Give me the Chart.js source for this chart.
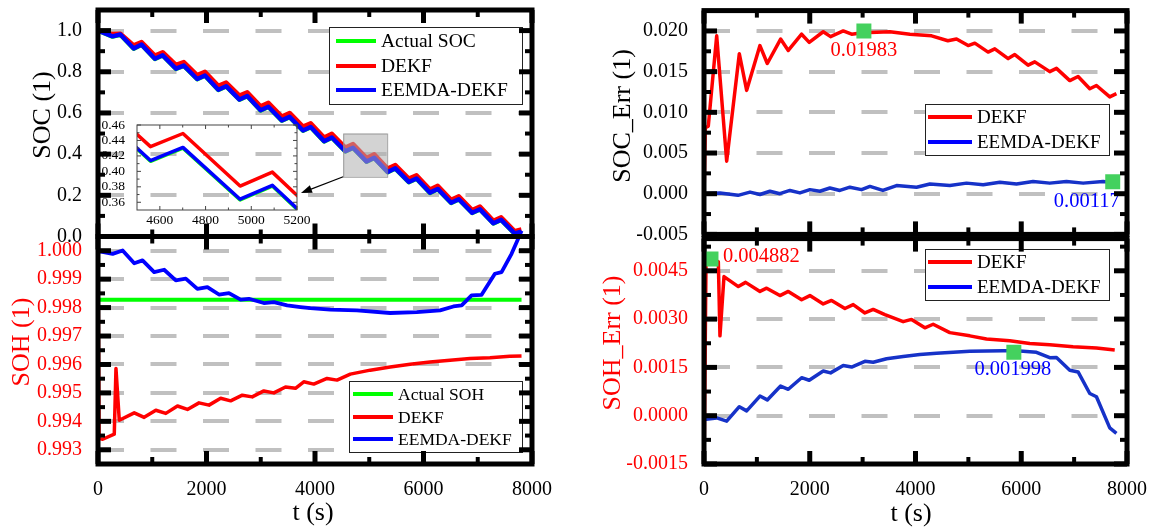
<!DOCTYPE html>
<html>
<head>
<meta charset="utf-8">
<script src="https://cdn.jsdelivr.net/npm/chart.js@4.4.1/dist/chart.umd.min.js"></script>
<style>
html,body{margin:0;padding:0;background:#fff;}
#wrap{position:relative;width:1151px;height:532px;overflow:hidden;background:#fff;}
#wrap canvas{position:absolute;}
</style>
</head>
<body>
<div id="wrap">
  <canvas id="c_soc" width="560" height="245" style="left:0;top:0;width:560px;height:245px"></canvas>
  <canvas id="c_soh" width="560" height="304" style="left:0;top:228px;width:560px;height:304px"></canvas>
  <canvas id="c_inset" width="225" height="115" style="left:95px;top:115px;width:225px;height:115px"></canvas>
  <canvas id="c_se" width="571" height="245" style="left:580px;top:0;width:571px;height:245px"></canvas>
  <canvas id="c_he" width="571" height="304" style="left:580px;top:228px;width:571px;height:304px"></canvas>
</div>
<script>
const FONT = '"Liberation Serif","Times New Roman",serif';
Chart.defaults.font.family = FONT;

/* ---------- data ---------- */
const xTicks = [0,2000,4000,6000,8000];

// SOC (top left) : peaks / troughs of the drive cycle
const socNames = ['Actual SOC','DEKF','EEMDA-DEKF'];
const tSoc = [0,268,412,658,803,1049,1192,1437,1582,1828,1971,2218,2362,2608,2751,2997,3141,3388,3532,3779,3921,4168,4311,4559,4701,4951,5092,5340,5481,5729,5871,6119,6262,6509,6651,6898,7041,7289,7431,7679,7805];
const socActual = [1.000,0.971,0.980,0.912,0.931,0.862,0.879,0.814,0.829,0.764,0.781,0.712,0.729,0.664,0.681,0.612,0.629,0.563,0.580,0.514,0.531,0.462,0.480,0.413,0.430,0.363,0.381,0.312,0.330,0.264,0.281,0.212,0.230,0.163,0.180,0.114,0.131,0.063,0.080,0.014,0.022];
const socDekf   = [1.000,0.983,0.985,0.928,0.944,0.879,0.895,0.833,0.847,0.784,0.800,0.732,0.748,0.684,0.700,0.632,0.649,0.583,0.600,0.534,0.550,0.481,0.499,0.432,0.449,0.381,0.399,0.330,0.347,0.281,0.297,0.228,0.246,0.178,0.195,0.128,0.145,0.076,0.093,0.026,0.034];
const socEemda  = [1.000,0.972,0.981,0.913,0.932,0.863,0.880,0.815,0.830,0.765,0.782,0.713,0.730,0.665,0.682,0.613,0.630,0.564,0.581,0.515,0.532,0.463,0.481,0.414,0.431,0.364,0.382,0.313,0.331,0.265,0.282,0.213,0.231,0.164,0.181,0.115,0.132,0.064,0.081,0.015,0.023];
const socTicks = [0,0.2,0.4,0.6,0.8,1.0];

// inset
const insetXTicks = [4600,4800,5000,5200];
const insetYTicks = [0.36,0.38,0.40,0.42,0.44,0.46];

// SOH (bottom left)
const sohNames = ['Actual SOH','DEKF','EEMDA-DEKF'];
const tSohAct = [0,7807];
const sohAct  = [0.99828,0.99828];
const tSohDekf = [0,20,86,300,331,392,668,851,1066,1250,1465,1649,1862,2046,2261,2445,2660,2843,3057,3241,3456,3640,3793,3977,4222,4406,4651,5018,5386,5754,6121,6489,6857,7224,7592,7807];
const sohDekf  = [1.0000,0.99340,0.99337,0.99355,0.99586,0.99404,0.99430,0.99414,0.99439,0.99428,0.99454,0.99442,0.99465,0.99457,0.99481,0.99472,0.99492,0.99486,0.99507,0.99500,0.99521,0.99516,0.99539,0.99531,0.99551,0.99545,0.99566,0.99580,0.99591,0.99601,0.99609,0.99615,0.99621,0.99624,0.99629,0.99630];
const tSohEemda = [0,55,270,454,668,821,1035,1219,1434,1618,1832,2016,2230,2414,2629,2782,3057,3241,3487,3732,3915,4283,4773,5386,5876,6305,6550,6703,6887,7071,7316,7439,7623,7745,7807];
const sohEemda  = [1.0000,0.99997,0.99989,1.00001,0.99956,0.99966,0.99925,0.99933,0.99896,0.99902,0.99866,0.99872,0.99846,0.99851,0.99828,0.99831,0.99816,0.99819,0.99808,0.99802,0.99798,0.99793,0.99790,0.99781,0.99784,0.99790,0.99804,0.99808,0.99843,0.99845,0.99919,0.99925,0.99989,1.00042,1.00070];
const sohTicks = [0.993,0.994,0.995,0.996,0.997,0.998,0.999,1.000];

// SOC_Err (top right)
const errNames = ['DEKF','EEMDA-DEKF'];
const tSeDekf = [0,25,81,240,429,668,807,1058,1197,1449,1594,1846,1990,2255,2394,2633,2792,3030,3138,3516,3894,4304,4612,4776,4996,5122,5373,5500,5752,5878,6129,6256,6539,6666,6918,7075,7296,7422,7674,7800];
const seDekf  = [-0.0006,0.0081,0.0083,0.0194,0.0040,0.0172,0.0127,0.0182,0.0160,0.0190,0.0176,0.0196,0.0186,0.0199,0.0193,0.0200,0.0196,0.0198,0.0198,0.0199,0.0196,0.0194,0.0188,0.0190,0.0182,0.0185,0.0174,0.0178,0.0166,0.0171,0.0158,0.0162,0.0150,0.0154,0.0139,0.0144,0.0129,0.0133,0.0119,0.0123];
const tSeEemda = [0,302,643,870,1058,1247,1436,1625,1814,2003,2192,2381,2570,2759,2980,3138,3383,3642,4020,4272,4650,4965,5280,5595,5910,6224,6539,6855,7170,7548,7800];
const seEemda  = [0.0000,0.0001,-0.0002,0.0002,-0.0001,0.0003,0.0000,0.0004,0.0001,0.0005,0.0003,0.0007,0.0004,0.0008,0.0005,0.0009,0.0004,0.0010,0.0008,0.0012,0.0010,0.0013,0.0011,0.0014,0.0012,0.0015,0.0013,0.0015,0.0013,0.0015,0.0013];
const seMarkT = [3024,7730];
const seMarkV = [0.0200,0.00146];
const seMarkText = ['0.01983','0.00117'];
const seTicks = [-0.005,0,0.005,0.010,0.015,0.020];

// SOH_Err (bottom right)
const tHeDekf = [0,38,150,271,302,378,649,787,1058,1185,1436,1594,1846,2003,2255,2413,2665,2822,3043,3200,3421,3767,3925,4177,4334,4649,5027,5343,5783,6161,6539,6980,7422,7768];
const heDekf  = [-0.0017,0.00468,0.00488,0.00478,0.00248,0.00432,0.00401,0.00414,0.00386,0.00396,0.00373,0.00386,0.00360,0.00373,0.00347,0.00358,0.00333,0.00345,0.00319,0.00330,0.00314,0.00292,0.00299,0.00273,0.00284,0.00258,0.00248,0.00238,0.00233,0.00224,0.00220,0.00214,0.00210,0.00204];
const tHeEemda = [0,240,429,668,807,1058,1197,1449,1594,1846,1990,2255,2394,2633,2792,3043,3200,3453,3767,4082,4398,5027,5657,5910,6288,6539,6666,6918,7075,7296,7422,7674,7800];
const heEemda  = [-0.00012,-0.00007,-0.00017,0.00028,0.00015,0.00061,0.00049,0.00092,0.00082,0.00118,0.00110,0.00139,0.00133,0.00156,0.00151,0.00169,0.00166,0.00177,0.00184,0.00190,0.00194,0.00200,0.00202,0.00202,0.00197,0.00180,0.00181,0.00141,0.00136,0.00069,0.00059,-0.00038,-0.00055];
const heMarkT = [132,5860];
const heMarkV = [0.00487,0.00197];
const heMarkText = ['0.004882','0.001998'];
const heTicks = [-0.0015,0,0.0015,0.0030,0.0045];

/* ---------- helpers ---------- */
const RED = '#ff0000', BLUE = '#0000ff', GREEN = '#00ff00', BLUE2 = '#1632c8', MARK = '#44d15e';
const INSET = {left:137, top:125, right:297, bottom:210};

function pts(ts, vs){ return ts.map((t,i)=>({x:t, y:vs[i]})); }

function minors(majors, min, max){
  const st = majors[1]-majors[0], out = [];
  for(let v = majors[0]-st/2; v < max+st*1e-6; v += st){
    if(v > min+st*1e-6 && v < max-st*1e-6) out.push(v);
  }
  return out;
}

function lineDs(label, ts, vs, color, w, order, extra){
  return Object.assign({label, data:pts(ts,vs), borderColor:color, backgroundColor:color,
    borderWidth:w, pointRadius:0, tension:0, borderJoinStyle:'round', fill:false, order}, extra||{});
}
function markDs(ts, vs){
  return {type:'scatter', data:pts(ts,vs), pointStyle:'rect', pointRadius:10.6, pointHoverRadius:10.6,
    backgroundColor:MARK, borderWidth:0, showLine:false, order:0};
}

function xScale(show, h, min, max, ticks, opt){
  opt = opt || {};
  return {type:'linear', min, max,
    afterBuildTicks: s=>{ s.ticks = ticks.map(v=>({value:v})); },
    afterFit: s=>{ s.height = h; s.paddingLeft = 0; s.paddingRight = 0; },
    grid:{display:false}, border:{display:false},
    ticks:{display:show, color:'#000', padding:opt.pad ?? 6, autoSkip:false, maxRotation:0,
      font:{family:FONT, size:opt.size || 20}, callback: v=>String(v)}};
}
function yScale(min, max, ticks, digits, color, w, opt){
  opt = opt || {};
  return {type:'linear', min, max,
    afterBuildTicks: s=>{ s.ticks = ticks.map(v=>({value:v})); },
    afterFit: s=>{ s.width = w; s.paddingTop = 0; s.paddingBottom = 0; },
    grid: opt.noGrid ? {display:false} : {color:'#c0c0c0', lineWidth:4, drawTicks:false},
    border:{display:false, dash:[26,26.5]},
    ticks:{color, padding:opt.pad ?? 16, autoSkip:false, font:{family:FONT, size:opt.size || 20},
      callback: v=>Number(v).toFixed(digits)}};
}

/* frame, inward ticks, legend, notes, titles */
function makeFrame(cfg){
  return {
    id:'frame',
    afterDatasetsDraw(chart){
      if(!cfg.shade) return;
      const {ctx, scales:{x, y}} = chart, s = cfg.shade;
      const x0 = x.getPixelForValue(s.x0), x1 = x.getPixelForValue(s.x1);
      const y0 = y.getPixelForValue(s.y0), y1 = y.getPixelForValue(s.y1);
      ctx.save();
      ctx.fillStyle = 'rgba(175,175,175,0.55)';
      ctx.fillRect(x0, y1, x1-x0, y0-y1);
      ctx.strokeStyle = 'rgba(140,140,140,0.8)'; ctx.lineWidth = 1;
      ctx.strokeRect(x0+0.5, y1+0.5, x1-x0, y0-y1);
      // arrow to the inset
      const ex = INSET.right+4, ey = 193;
      const ang = Math.atan2(ey-y0, ex-x0);
      ctx.strokeStyle = '#000'; ctx.fillStyle = '#000'; ctx.lineWidth = 1.2;
      ctx.beginPath(); ctx.moveTo(x0, y0); ctx.lineTo(ex-8*Math.cos(ang), ey-8*Math.sin(ang)); ctx.stroke();
      ctx.beginPath();
      ctx.moveTo(ex, ey);
      ctx.lineTo(ex-11*Math.cos(ang)+4*Math.sin(ang), ey-11*Math.sin(ang)-4*Math.cos(ang));
      ctx.lineTo(ex-11*Math.cos(ang)-4*Math.sin(ang), ey-11*Math.sin(ang)+4*Math.cos(ang));
      ctx.closePath(); ctx.fill();
      ctx.restore();
    },
    afterDraw(chart){
      const {ctx, chartArea:a, scales:{x:sx, y:sy}} = chart;
      const ox = cfg.ox, oy = cfg.oy;
      ctx.save();
      // legend
      if(cfg.legend){
        const L = cfg.legend;
        ctx.fillStyle = '#fff';
        ctx.fillRect(L.box[0]-ox, L.box[1]-oy, L.box[2], L.box[3]);
        ctx.strokeStyle = '#222'; ctx.lineWidth = 1;
        ctx.strokeRect(L.box[0]-ox+0.5, L.box[1]-oy+0.5, L.box[2], L.box[3]);
        L.names.forEach((name, i)=>{
          const yy = L.rows[i]-oy;
          ctx.strokeStyle = L.colors[i]; ctx.lineWidth = 4; ctx.lineCap = 'butt';
          ctx.beginPath(); ctx.moveTo(L.s0-ox, yy); ctx.lineTo(L.s1-ox, yy); ctx.stroke();
          ctx.fillStyle = '#000'; ctx.font = L.size+'px '+FONT;
          ctx.textAlign = 'left'; ctx.textBaseline = 'middle';
          ctx.fillText(name, L.tx-ox, yy+1);
        });
      }
      // marker notes
      (cfg.notes||[]).forEach(n=>{
        const px = sx.getPixelForValue(n.t), py = sy.getPixelForValue(n.v);
        ctx.font = '20.5px '+FONT; ctx.fillStyle = n.color;
        ctx.textAlign = n.align; ctx.textBaseline = 'middle';
        ctx.fillText(n.text, px+n.dx, py+n.dy);
      });
      // axis titles
      (cfg.titles||[]).forEach(tt=>{
        ctx.save();
        ctx.translate(tt.x-ox, tt.y-oy);
        if(tt.rot) ctx.rotate(-Math.PI/2);
        ctx.font = '26px '+FONT; ctx.fillStyle = tt.color;
        ctx.textAlign = 'center'; ctx.textBaseline = 'middle';
        ctx.fillText(tt.text, 0, 0);
        ctx.restore();
      });
      // inward ticks on all four sides
      const T = cfg.tick;
      ctx.strokeStyle = T.color; ctx.lineCap = 'butt';
      const seg = (x1,y1,x2,y2,w)=>{ ctx.lineWidth = w; ctx.beginPath(); ctx.moveTo(x1,y1); ctx.lineTo(x2,y2); ctx.stroke(); };
      const xMaj = cfg.xMajor, yMaj = cfg.yMajor;
      const xMin = minors(xMaj, sx.min, sx.max), yMin = minors(yMaj, sy.min, sy.max);
      xMaj.forEach(v=>{ const p = sx.getPixelForValue(v); seg(p,a.bottom,p,a.bottom-T.major,T.majorW); seg(p,a.top,p,a.top+T.major,T.majorW); });
      xMin.forEach(v=>{ const p = sx.getPixelForValue(v); seg(p,a.bottom,p,a.bottom-T.minor,T.minorW); seg(p,a.top,p,a.top+T.minor,T.minorW); });
      yMaj.forEach(v=>{ const p = sy.getPixelForValue(v); seg(a.left,p,a.left+T.major,p,T.majorW); seg(a.right,p,a.right-T.major,p,T.majorW); });
      yMin.forEach(v=>{ const p = sy.getPixelForValue(v); seg(a.left,p,a.left+T.minor,p,T.minorW); seg(a.right,p,a.right-T.minor,p,T.minorW); });
      ctx.lineWidth = T.border; ctx.lineJoin = 'miter';
      ctx.strokeRect(a.left, a.top, a.right-a.left, a.bottom-a.top);
      ctx.restore();
    }
  };
}

const BIG = {major:13, minor:7, majorW:5, minorW:4, border:5, color:'#000'};

function makeChart(id, datasets, scales, pad, frameCfg){
  return new Chart(document.getElementById(id), {
    type:'line',
    data:{datasets},
    options:{
      responsive:false, animation:false, devicePixelRatio:1, events:[],
      layout:{padding:pad},
      plugins:{legend:{display:false}, tooltip:{enabled:false}},
      scales
    },
    plugins:[makeFrame(frameCfg)]
  });
}

/* ---------- top left: SOC ---------- */
makeChart('c_soc', [
  lineDs(socNames[2], tSoc, socEemda, BLUE, 4.5, 1),
  lineDs(socNames[1], tSoc, socDekf, RED, 4.5, 2),
  lineDs(socNames[0], tSoc, socActual, GREEN, 4.5, 3)
], {
  x: xScale(false, 8.5, 0, 8000, xTicks),
  y: yScale(0, 1.1, socTicks, 1, '#000', 98)
}, {top:10, right:28, left:0, bottom:0}, {
  ox:0, oy:0, tick:BIG, xMajor:xTicks, yMajor:socTicks,
  shade:{x0:4520, x1:5330, y0:0.29, y1:0.50},
  legend:{box:[329,27,193,77], rows:[41,66,90], s0:336, s1:376, tx:381, size:19.5,
    names:socNames, colors:[GREEN, RED, BLUE]},
  titles:[{text:'SOC (1)', x:43, y:115, rot:true, color:'#000'}]
});

/* ---------- bottom left: SOH ---------- */
makeChart('c_soh', [
  lineDs(sohNames[2], tSohEemda, sohEemda, BLUE, 3.8, 1, {clip:{left:5, top:10, right:5, bottom:5}}),
  lineDs(sohNames[1], tSohDekf, sohDekf, RED, 3.5, 2),
  lineDs(sohNames[0], tSohAct, sohAct, GREEN, 4, 3)
], {
  x: xScale(true, 68, 0, 8000, xTicks),
  y: yScale(0.9925, 1.0005, sohTicks, 3, RED, 98)
}, {top:8.5, right:28, left:0, bottom:0}, {
  ox:0, oy:228, tick:BIG, xMajor:xTicks, yMajor:sohTicks,
  legend:{box:[349,381,173,71], rows:[394,417,439], s0:353, s1:393, tx:398, size:17.5,
    names:sohNames, colors:[GREEN, RED, BLUE]},
  titles:[{text:'SOH (1)', x:22, y:342, rot:true, color:RED},
          {text:'t (s)', x:313, y:513, rot:false, color:'#000'}]
});

/* ---------- inset ---------- */
makeChart('c_inset', [
  lineDs(socNames[2], tSoc, socEemda, BLUE, 3.5, 1),
  lineDs(socNames[1], tSoc, socDekf, RED, 3.5, 2),
  lineDs(socNames[0], tSoc, socActual, GREEN, 3.5, 3)
], {
  x: xScale(true, 20, 4500, 5200, insetXTicks, {pad:-6, size:13.5}),
  y: yScale(0.35, 0.46, insetYTicks, 2, '#000', 42, {pad:4, size:13.5, noGrid:true})
}, {top:10, right:23, left:0, bottom:0}, {
  ox:95, oy:115, xMajor:insetXTicks, yMajor:insetYTicks,
  tick:{major:4, minor:2.5, majorW:1, minorW:1, border:1, color:'#444'}
});

/* ---------- top right: SOC_Err ---------- */
makeChart('c_se', [
  markDs(seMarkT, seMarkV),
  lineDs(errNames[1], tSeEemda, seEemda, BLUE2, 3.5, 1),
  lineDs(errNames[0], tSeDekf, seDekf, RED, 3.5, 2)
], {
  x: xScale(false, 8.5, 0, 8000, xTicks),
  y: yScale(-0.005, 0.0225, seTicks, 3, '#000', 124)
}, {top:10, right:24, left:0, bottom:0}, {
  ox:580, oy:0, tick:BIG, xMajor:xTicks, yMajor:seTicks,
  legend:{box:[925,104,184,51], rows:[117,142], s0:928, s1:972, tx:977, size:19,
    names:errNames, colors:[RED, BLUE]},
  notes:[
    {t:seMarkT[0], v:seMarkV[0], text:seMarkText[0], color:RED, dx:0, dy:20, align:'center'},
    {t:seMarkT[1], v:seMarkV[1], text:seMarkText[1], color:BLUE, dx:-26, dy:20, align:'center'}
  ],
  titles:[{text:'SOC_Err (1)', x:623, y:116, rot:true, color:'#000'}]
});

/* ---------- bottom right: SOH_Err ---------- */
makeChart('c_he', [
  markDs(heMarkT, heMarkV),
  lineDs(errNames[1], tHeEemda, heEemda, BLUE2, 3.5, 1),
  lineDs(errNames[0], tHeDekf, heDekf, RED, 3.5, 2)
], {
  x: xScale(true, 68, 0, 8000, xTicks),
  y: yScale(-0.0015, 0.0055, heTicks, 4, RED, 124)
}, {top:8.5, right:24, left:0, bottom:0}, {
  ox:580, oy:228, tick:BIG, xMajor:xTicks, yMajor:heTicks,
  legend:{box:[925,249,184,51], rows:[262,287], s0:928, s1:972, tx:977, size:19,
    names:errNames, colors:[RED, BLUE]},
  notes:[
    {t:heMarkT[0], v:heMarkV[0], text:heMarkText[0], color:RED, dx:12, dy:-2, align:'left'},
    {t:heMarkT[1], v:heMarkV[1], text:heMarkText[1], color:BLUE, dx:-1, dy:17, align:'center'}
  ],
  titles:[{text:'SOH_Err (1)', x:613, y:343, rot:true, color:RED},
          {text:'t (s)', x:911, y:514, rot:false, color:'#000'}]
});
</script>
</body>
</html>
